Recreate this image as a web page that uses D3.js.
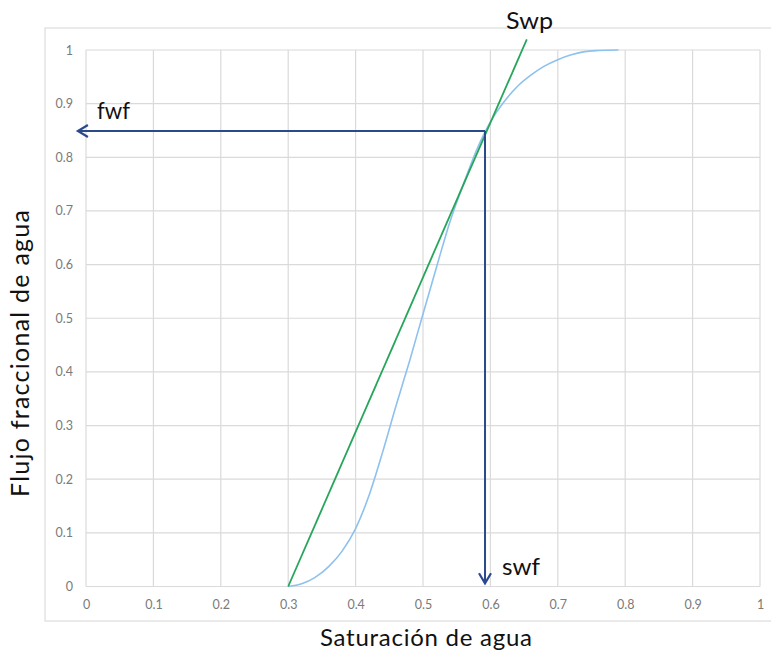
<!DOCTYPE html>
<html><head><meta charset="utf-8">
<script src="https://cdn.jsdelivr.net/npm/d3@7"></script>
<style>body{margin:0;background:#fff}svg{display:block}</style>
</head><body>
<svg id="c" width="771" height="656"></svg>
<script>
// Data
const xTicks = [0,0.1,0.2,0.3,0.4,0.5,0.6,0.7,0.8,0.9,1];
const yTicks = [0,0.1,0.2,0.3,0.4,0.5,0.6,0.7,0.8,0.9,1];
const xTickLabels = ["0","0.1","0.2","0.3","0.4","0.5","0.6","0.7","0.8","0.9","1"];
const yTickLabels = ["0","0.1","0.2","0.3","0.4","0.5","0.6","0.7","0.8","0.9","1"];
const sw = [0.30,0.32,0.34,0.36,0.38,0.40,0.42,0.44,0.46,0.48,0.50,0.52,0.54,0.56,0.58,0.60,0.62,0.64,0.66,0.68,0.70,0.72,0.74,0.76,0.79];
const fw = [0,0.005,0.017,0.037,0.066,0.108,0.17,0.25,0.337,0.42,0.508,0.595,0.68,0.75,0.815,0.866,0.903,0.932,0.953,0.970,0.982,0.991,0.997,0.999,1.0];
const tangentX = [0.30, 0.654];
const tangentY = [0, 1.02];
const swf = 0.592, fwf = 0.849, arrowLeftX = -0.012, arrowBottomY = 0.006;
const labels = {xTitle:"Saturación de agua", yTitle:"Flujo fraccional de agua", swp:"Swp", fwf:"fwf", swf:"swf"};

const svg = d3.select("#c");
const font = "Lato, 'Open Sans', sans-serif";
const x = d3.scaleLinear().domain([0,1]).range([86,760]);
const y = d3.scaleLinear().domain([0,1]).range([586.5,50]);

// outer border
svg.append("rect").attr("x",45).attr("y",28).attr("width",740).attr("height",593)
  .attr("fill","none").attr("stroke","#dcdcdc").attr("stroke-width",1.2);

// grid
svg.append("g").selectAll("line").data(xTicks).join("line")
  .attr("x1",d=>x(d)).attr("x2",d=>x(d)).attr("y1",y(0)).attr("y2",y(1))
  .attr("stroke","#dadada").attr("stroke-width",1.2);
svg.append("g").selectAll("line").data(yTicks).join("line")
  .attr("x1",x(0)).attr("x2",x(1)).attr("y1",d=>y(d)).attr("y2",d=>y(d))
  .attr("stroke","#dadada").attr("stroke-width",1.2);

// tick labels via axes
const xAxis = d3.axisBottom(x).tickValues(xTicks).tickFormat((d,i)=>xTickLabels[i]).tickSize(0).tickPadding(14);
const gx = svg.append("g").attr("transform",`translate(0,${y(0)})`).call(xAxis);
const yAxis = d3.axisLeft(y).tickValues(yTicks).tickFormat((d,i)=>yTickLabels[i]).tickSize(0).tickPadding(13);
const gy = svg.append("g").attr("transform",`translate(${x(0)},0)`).call(yAxis);
[gx,gy].forEach(g=>{g.select(".domain").remove();
  g.selectAll("text").attr("fill","#7a7a7a").style("font-family",font).style("font-size","12.5px");});

// fractional flow curve
const pts = sw.map((s,i)=>[s,fw[i]]);
svg.append("path").datum(pts)
  .attr("d",d3.line().x(d=>x(d[0])).y(d=>y(d[1])).curve(d3.curveMonotoneX))
  .attr("fill","none").attr("stroke","#8dc1ee").attr("stroke-width",1.6);

// tangent
svg.append("line").attr("x1",x(tangentX[0])).attr("y1",y(tangentY[0]))
  .attr("x2",x(tangentX[1])).attr("y2",y(tangentY[1]))
  .attr("stroke","#27a55a").attr("stroke-width",1.8);

// arrows
const navy = "#2b4a8b";
svg.append("line").attr("x1",x(swf)).attr("y1",y(fwf)).attr("x2",x(arrowLeftX)+1).attr("y2",y(fwf))
  .attr("stroke",navy).attr("stroke-width",2);
svg.append("path").attr("d",`M${x(arrowLeftX)+10},${y(fwf)-6}L${x(arrowLeftX)},${y(fwf)}L${x(arrowLeftX)+10},${y(fwf)+6}`)
  .attr("fill","none").attr("stroke",navy).attr("stroke-width",2.2);
svg.append("line").attr("x1",x(swf)).attr("y1",y(fwf)).attr("x2",x(swf)).attr("y2",y(arrowBottomY)-1)
  .attr("stroke",navy).attr("stroke-width",2);
svg.append("path").attr("d",`M${x(swf)-6},${y(arrowBottomY)-10}L${x(swf)},${y(arrowBottomY)}L${x(swf)+6},${y(arrowBottomY)-10}`)
  .attr("fill","none").attr("stroke",navy).attr("stroke-width",2.2);

// annotation labels
function label(xp, yp, t, len){
  const el = svg.append("text").attr("x",xp).attr("y",yp).text(t)
    .style("font-family",font).style("font-size","24px").attr("fill","#111");
  if(len) el.attr("textLength",len).attr("lengthAdjust","spacingAndGlyphs");
  return el;
}
label(506,29,labels.swp,47);
label(97,119,labels.fwf,33);
label(502,575,labels.swf,38);

// axis titles
svg.append("text").attr("x",320).attr("y",646).text(labels.xTitle)
  .attr("textLength",212).attr("lengthAdjust","spacing")
  .style("font-family",font).style("font-size","24px").attr("fill","#111");
svg.append("text").attr("transform","translate(29,497) rotate(-90)").text(labels.yTitle)
  .attr("textLength",287).attr("lengthAdjust","spacing")
  .style("font-family",font).style("font-size","25px").attr("fill","#111");
</script>
</body></html>
